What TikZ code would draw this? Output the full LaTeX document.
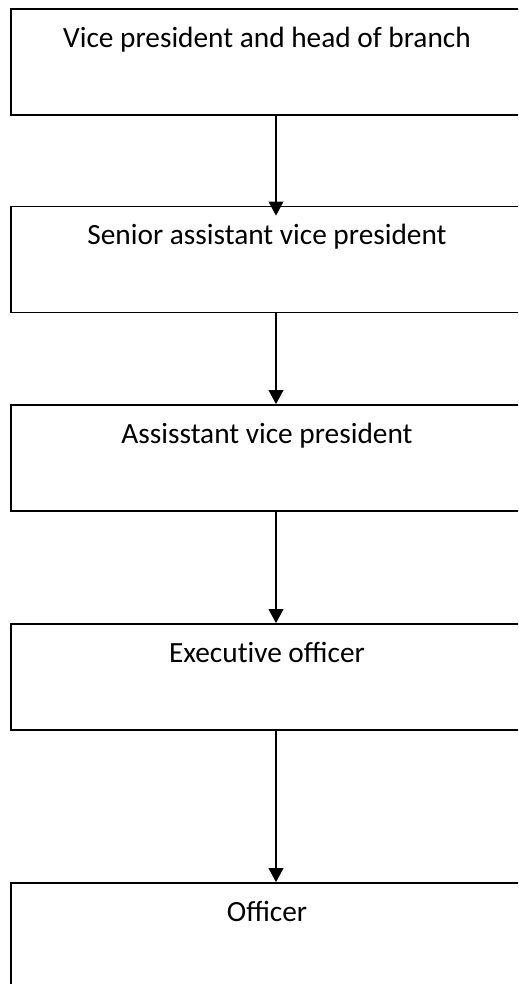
\documentclass[tikz,border=0pt]{standalone}
\usepackage{fontspec}
\setmainfont{Carlito}
\usetikzlibrary{arrows.meta}
\begin{document}
\begin{tikzpicture}[x=0.75pt,y=-0.75pt,
  rolebox/.style={draw, line width=1.3pt, inner sep=0pt, minimum width=397.5pt, minimum height=79.5pt},
  roletext/.style={anchor=base, yshift=-29.25pt, xshift=-6.75pt, font=\fontsize{22pt}{26pt}\selectfont, inner sep=0pt},
  link/.style={line width=1.3pt, -{Triangle[length=10.5pt,width=11pt]}}]
\path[use as bounding box] (0,0) rectangle (518,984);
\clip (0,0) rectangle (518,984);
\node[rolebox, label={[roletext]north:Vice president and head of branch}] (b1) at (276,62) {};
\node[rolebox, label={[roletext]north:Senior assistant vice president}] (b2) at (276,259.5) {};
\node[rolebox, label={[roletext]north:Assisstant vice president}] (b3) at (276,458) {};
\node[rolebox, label={[roletext]north:Execut\kern0pt ive officer}] (b4) at (276,677) {};
\node[rolebox, label={[roletext]north:Officer}] (b5) at (276,936) {};
\draw[link] (b1.south) -- ([yshift=-7.5pt]b2.north);
\draw[link] (b2.south) -- (b3.north);
\draw[link] (b3.south) -- (b4.north);
\draw[link] (b4.south) -- (b5.north);
\end{tikzpicture}
\end{document}
